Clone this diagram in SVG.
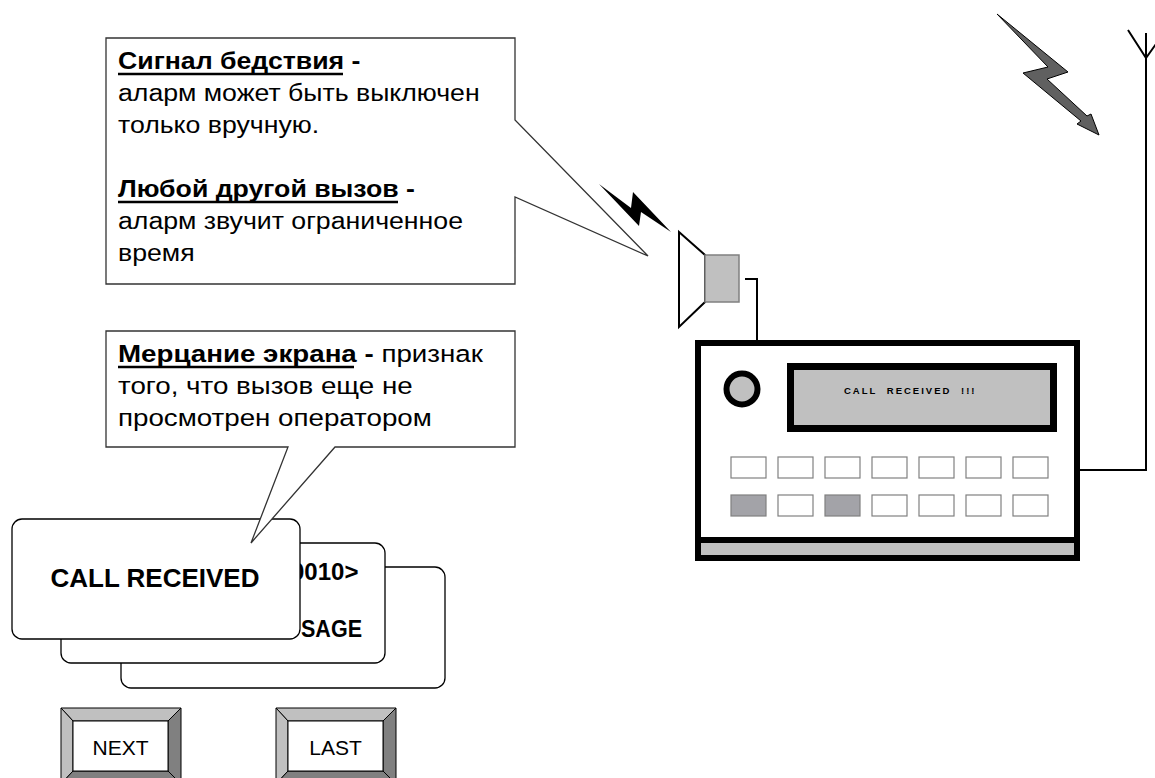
<svg xmlns="http://www.w3.org/2000/svg" width="1155" height="778" viewBox="0 0 1155 778">
  <style>
    text { font-family: "Liberation Sans", Arial, sans-serif; fill: #000; }
    .note { font-size: 23px; }
    .note2 { font-size: 23.5px; }
    .b { font-weight: bold; }
    .ul { stroke: #000; stroke-width: 2.4; }
    .callout { fill: #fff; stroke: #333; stroke-width: 1.3; }
    .card { fill: #fff; stroke: #000; stroke-width: 1.3; }
    .cardtxt { font-weight: bold; }
    .key { fill: #fff; stroke: #808080; stroke-width: 1.2; }
    .key.on { fill: #a3a3a8; }
    .wire { fill: none; stroke: #000; stroke-width: 2; }
    .bev-l { fill: #c0c0c0; stroke: #000; stroke-width: 1; }
    .bev-d { fill: #808080; stroke: #000; stroke-width: 1; }
    .face { fill: #fff; stroke: #000; stroke-width: 1; }
    .btntxt { font-size: 21px; }
  </style>

  <!-- connectors: speaker lead, antenna feed -->
  <g id="connectors">
    <path class="wire" d="M745,279 H757 V341"/>
    <path class="wire" d="M1079,470 H1146 V33"/>
    <path class="wire" d="M1128,30 L1146,58 L1166,30"/>
  </g>

  <!-- incoming radio signal -->
  <g id="signal">
    <polygon points="997,14 1068,72 1047,79 1087,116 1091,114 1099,135 1077,124 1081,121 1023,73 1048,67" fill="#606060" stroke="#000" stroke-width="1"/>
  </g>

  <!-- loudspeaker with sound burst -->
  <g id="speaker">
    <polygon points="599,184 631,208 633,192 671,232 641,212 639,226" fill="#000"/>
    <polygon points="679,232 705,255 705,302 679,327" fill="#fff" stroke="#000" stroke-width="2"/>
    <rect x="705" y="255" width="34" height="47" fill="#c0c0c0" stroke="#808080" stroke-width="1.5"/>
  </g>

  <!-- receiver unit -->
  <g id="receiver">
    <rect x="698" y="343" width="379" height="215" fill="#fff" stroke="#000" stroke-width="6"/>
    <rect x="701" y="543" width="373" height="12" fill="#c0c0c0"/>
    <line x1="698" y1="540" x2="1077" y2="540" stroke="#000" stroke-width="6"/>
    <circle cx="742" cy="389" r="15.5" fill="#c0c0c0" stroke="#000" stroke-width="6"/>
    <rect x="790.5" y="366.5" width="263" height="62" fill="#c0c0c0" stroke="#000" stroke-width="7"/>
    <text x="844" y="394" font-size="9.5" font-weight="bold" letter-spacing="2" word-spacing="5" fill="#222">CALL RECEIVED !!!</text>
    <g id="keys">
      <rect class="key" x="731" y="457" width="35" height="21"/>
      <rect class="key" x="778" y="457" width="35" height="21"/>
      <rect class="key" x="825" y="457" width="35" height="21"/>
      <rect class="key" x="872" y="457" width="35" height="21"/>
      <rect class="key" x="919" y="457" width="35" height="21"/>
      <rect class="key" x="966" y="457" width="35" height="21"/>
      <rect class="key" x="1013" y="457" width="35" height="21"/>
      <rect class="key on" x="731" y="495" width="35" height="21"/>
      <rect class="key" x="778" y="495" width="35" height="21"/>
      <rect class="key on" x="825" y="495" width="35" height="21"/>
      <rect class="key" x="872" y="495" width="35" height="21"/>
      <rect class="key" x="919" y="495" width="35" height="21"/>
      <rect class="key" x="966" y="495" width="35" height="21"/>
      <rect class="key" x="1013" y="495" width="35" height="21"/>
    </g>
  </g>

  <!-- alarm note -->
  <g id="note-alarm">
    <polygon class="callout" points="106,38 515,38 515,120 648,256 515,197 515,284 106,284"/>
    <g transform="translate(118,0) scale(1.16,1)">
      <text class="note" x="0" y="69"><tspan class="b">Сигнал бедствия -</tspan></text>
      <text class="note" x="0" y="101">аларм может быть выключен</text>
      <text class="note" x="0" y="133">только вручную.</text>
      <text class="note" x="0" y="197"><tspan class="b">Любой другой вызов -</tspan></text>
      <text class="note" x="0" y="229">аларм звучит ограниченное</text>
      <text class="note" x="0" y="261">время</text>
    </g>
    <line class="ul" x1="118" y1="74" x2="343" y2="74"/>
    <line class="ul" x1="118" y1="202" x2="398" y2="202"/>
  </g>

  <!-- stacked screen pages -->
  <g id="page-3">
    <rect class="card" x="121" y="567" width="324" height="121" rx="10"/>
  </g>
  <g id="page-2">
    <rect class="card" x="61" y="543" width="324" height="120" rx="10"/>
    <text class="cardtxt" x="291" y="580" style="font-size:24px">0010&gt;</text>
    <text class="cardtxt" x="301" y="637" style="font-size:24px" textLength="61" lengthAdjust="spacingAndGlyphs">SAGE</text>
  </g>
  <g id="page-1">
    <rect class="card" x="12" y="519" width="288" height="120" rx="10"/>
    <text class="cardtxt" x="155" y="587" text-anchor="middle" style="font-size:26px">CALL RECEIVED</text>
  </g>

  <!-- flashing screen note -->
  <g id="note-flash">
    <polygon class="callout" points="106,331 515,331 515,447 335,447 251,543 288,447 106,447"/>
    <g transform="translate(118,0) scale(1.18,1)">
      <text class="note2" x="0" y="362"><tspan class="b">Мерцание экрана -</tspan> признак</text>
      <text class="note2" x="0" y="394">того, что вызов еще не</text>
      <text class="note2" x="0" y="426">просмотрен оператором</text>
    </g>
    <line class="ul" x1="118" y1="367" x2="354" y2="367"/>
  </g>

  <!-- soft keys -->
  <g id="btn-next">
    <polygon class="bev-l" points="61,708 181,708 168,721 73,721"/>
    <polygon class="bev-l" points="61,708 73,721 73,771 61,784"/>
    <polygon class="bev-d" points="181,708 181,784 168,771 168,721"/>
    <polygon class="bev-d" points="61,784 181,784 168,771 73,771"/>
    <rect class="face" x="73" y="721" width="95" height="50"/>
    <text class="btntxt" x="120.5" y="755" text-anchor="middle">NEXT</text>
  </g>
  <g id="btn-last">
    <polygon class="bev-l" points="276,708 396,708 383,721 288,721"/>
    <polygon class="bev-l" points="276,708 288,721 288,771 276,784"/>
    <polygon class="bev-d" points="396,708 396,784 383,771 383,721"/>
    <polygon class="bev-d" points="276,784 396,784 383,771 288,771"/>
    <rect class="face" x="288" y="721" width="95" height="50"/>
    <text class="btntxt" x="335.5" y="755" text-anchor="middle">LAST</text>
  </g>
</svg>
